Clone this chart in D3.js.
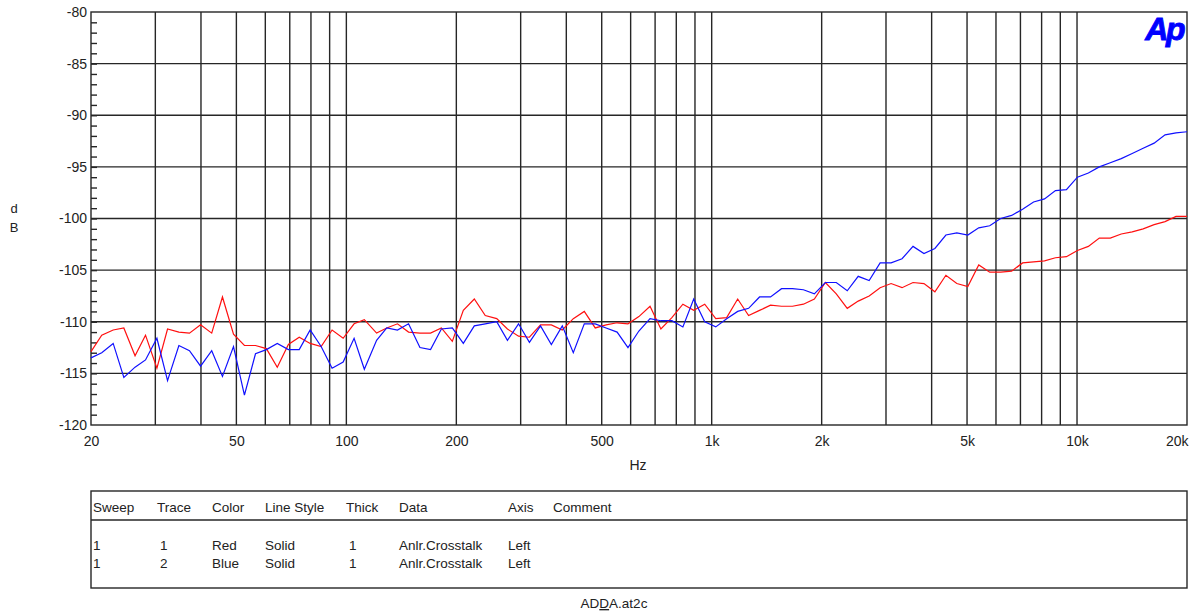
<!DOCTYPE html>
<html>
<head>
<meta charset="utf-8">
<script src="https://cdn.jsdelivr.net/npm/d3@7"></script>
<style>
  body { margin: 0; background: #fff; }
  svg text { font-family: "Liberation Sans", Arial, sans-serif; }
</style>
</head>
<body>
<div id="chart"></div>
<script>
// sweep frequencies (Hz), 101 points log-spaced from 20 Hz to 20 kHz
var freqs = [20, 21.4, 23.0, 24.6, 26.4, 28.2, 30.3, 32.4, 34.8, 37.2,
  39.9, 42.8, 45.8, 49.1, 52.6, 56.4, 60.4, 64.7, 69.4, 74.3,
  79.6, 85.3, 91.4, 98.0, 105, 112, 121, 129, 138, 148,
  159, 170, 182, 195, 209, 224, 240, 258, 276, 296,
  317, 340, 364, 390, 418, 448, 480, 514, 551, 590,
  632, 678, 726, 778, 834, 893, 957, 1026, 1099, 1178,
  1262, 1352, 1449, 1553, 1664, 1783, 1910, 2047, 2193, 2350,
  2518, 2698, 2891, 3098, 3319, 3557, 3811, 4083, 4376, 4688,
  5024, 5383, 5768, 6181, 6623, 7096, 7604, 8148, 8730, 9355,
  10024, 10741, 11509, 12332, 13214, 14159, 15172, 16257, 17419, 18665, 20000];

// trace 1 (red), dB
var redTrace = [-112.9, -111.3, -110.8, -110.6, -113.3, -111.3, -114.5, -110.7, -111.0, -111.1,
  -110.3, -111.1, -107.6, -111.2, -112.3, -112.3, -112.6, -114.4, -112.2, -111.5,
  -112.1, -112.4, -110.8, -111.6, -110.2, -109.8, -111.1, -110.6, -110.2, -111.0,
  -111.1, -111.1, -110.6, -111.9, -108.9, -107.8, -109.4, -109.7, -110.7, -111.4,
  -111.5, -110.3, -110.3, -110.8, -109.7, -109.0, -110.6, -110.3, -110.1, -110.2,
  -109.5, -108.5, -110.7, -109.6, -108.3, -108.9, -108.3, -109.7, -109.6, -107.8,
  -109.4, -108.9, -108.4, -108.5, -108.5, -108.3, -107.8, -106.2, -107.3, -108.7,
  -108.0, -107.5, -106.7, -106.3, -106.7, -106.2, -106.3, -107.1, -105.5, -106.3,
  -106.6, -104.5, -105.2, -105.2, -105.1, -104.3, -104.2, -104.1, -103.8, -103.7,
  -103.1, -102.7, -101.9, -101.9, -101.5, -101.3, -101.0, -100.6, -100.3, -99.8, -99.8];

// trace 2 (blue), dB
var blueTrace = [-113.5, -113.0, -112.1, -115.4, -114.4, -113.7, -111.6, -115.7, -112.3, -112.8,
  -114.3, -112.8, -115.3, -112.4, -117.1, -113.1, -112.7, -112.1, -112.7, -112.7,
  -110.8, -112.4, -114.5, -113.9, -111.6, -114.6, -111.8, -110.6, -110.8, -110.2,
  -112.5, -112.7, -110.7, -110.6, -112.1, -110.4, -110.2, -110.0, -111.8, -110.2,
  -112.0, -110.4, -112.2, -110.4, -113.0, -110.2, -110.2, -110.6, -111.0, -112.5,
  -110.9, -109.7, -109.9, -109.9, -110.5, -107.8, -110.0, -110.5, -109.7, -109.0,
  -108.7, -107.6, -107.6, -106.8, -106.8, -106.9, -107.3, -106.2, -106.2, -107.0,
  -105.6, -106.0, -104.3, -104.3, -103.9, -102.7, -103.4, -102.9, -101.6, -101.4,
  -101.6, -100.9, -100.7, -100.0, -99.7, -99.1, -98.4, -98.1, -97.3, -97.2,
  -96.0, -95.6, -95.0, -94.6, -94.2, -93.7, -93.2, -92.7, -91.9, -91.7, -91.6];

var xLabelTicks = [20, 50, 100, 200, 500, 1000, 2000, 5000, 10000, 20000];
var xGridTicks = [30, 40, 50, 60, 70, 80, 90, 100, 200, 300, 400, 500, 600, 700, 800, 900,
  1000, 2000, 3000, 4000, 5000, 6000, 7000, 8000, 9000, 10000];
var yTicks = [-80, -85, -90, -95, -100, -105, -110, -115, -120];
var yMinorTicks = d3.range(-119, -80, 1);

var tableHeader = ["Sweep", "Trace", "Color", "Line Style", "Thick", "Data", "Axis", "Comment"];
var tableRows = [
  ["1", "1", "Red", "Solid", "1", "Anlr.Crosstalk", "Left", ""],
  ["1", "2", "Blue", "Solid", "1", "Anlr.Crosstalk", "Left", ""]
];
var colX = [93, 157, 212, 265, 346, 399, 508, 553];

var W = 1191, H = 612;
var plot = {left: 91, right: 1187, top: 12, bottom: 425};

var svg = d3.select("#chart").append("svg")
    .attr("width", W)
    .attr("height", H);

var x = d3.scaleLog().domain([20, 20000]).range([plot.left, plot.right]);
var y = d3.scaleLinear().domain([-120, -80]).range([plot.bottom, plot.top]);

var gridColor = "#262626";

// grid
var grid = svg.append("g").attr("id", "grid");
grid.selectAll("line.v")
    .data(xGridTicks)
    .enter().append("line")
    .attr("class", "v")
    .attr("x1", function(d) { return x(d) }).attr("x2", function(d) { return x(d) })
    .attr("y1", plot.top).attr("y2", plot.bottom)
    .attr("stroke", gridColor).attr("stroke-width", 1.4)
grid.selectAll("line.h")
    .data(yTicks.slice(1, -1))
    .enter().append("line")
    .attr("class", "h")
    .attr("x1", plot.left).attr("x2", plot.right)
    .attr("y1", function(d) { return y(d) }).attr("y2", function(d) { return y(d) })
    .attr("stroke", gridColor).attr("stroke-width", 1.4)

// frame
svg.append("rect")
    .attr("x", plot.left).attr("y", plot.top)
    .attr("width", plot.right - plot.left).attr("height", plot.bottom - plot.top)
    .attr("fill", "none").attr("stroke", gridColor).attr("stroke-width", 1.4)

// minor ticks on the left axis, pointing inward
var minorAxis = d3.axisLeft(y).tickValues(yMinorTicks).tickSizeInner(-6).tickSizeOuter(0).tickFormat("");
svg.append("g")
    .attr("transform", "translate(" + plot.left + ",0)")
    .call(minorAxis)
    .call(function(g) { g.select(".domain").remove() })
    .selectAll("line").attr("stroke", gridColor).attr("stroke-width", 1.4)

// y labels (plain hyphen as in the original)
var yAxis = d3.axisLeft(y).tickValues(yTicks).tickSize(0).tickPadding(4)
    .tickFormat(function(d) { return String(d) });
svg.append("g")
    .attr("transform", "translate(" + plot.left + ",0)")
    .call(yAxis)
    .call(function(g) { g.select(".domain").remove() })
    .selectAll("text")
    .attr("font-size", 14).attr("fill", "#222")
    .style("font-family", "'Liberation Sans', Arial, sans-serif")

// x labels
function fmtHz(d) { return d >= 1000 ? (d / 1000) + "k" : d }
var xAxis = d3.axisBottom(x).tickValues(xLabelTicks).tickSize(0).tickPadding(11).tickFormat(fmtHz);
svg.append("g")
    .attr("transform", "translate(0," + plot.bottom + ")")
    .call(xAxis)
    .call(function(g) { g.select(".domain").remove() })
    .selectAll("text")
    .attr("font-size", 14).attr("fill", "#222")
    .style("font-family", "'Liberation Sans', Arial, sans-serif")
    .attr("text-anchor", function(d) { return d == 20000 ? "end" : "middle" })
    .attr("x", function(d) { return d == 20000 ? 1 : 0 })

// axis titles
svg.append("text").attr("x", 14).attr("y", 213).attr("text-anchor", "middle")
    .attr("font-size", 13).attr("fill", "#222").text("d")
svg.append("text").attr("x", 14).attr("y", 232).attr("text-anchor", "middle")
    .attr("font-size", 13).attr("fill", "#222").text("B")
svg.append("text").attr("x", 638).attr("y", 470).attr("text-anchor", "middle")
    .attr("font-size", 14).attr("fill", "#222").text("Hz")

// traces
var line = d3.line()
    .x(function(d, i) { return x(freqs[i]) })
    .y(function(d) { return y(d) });

svg.append("path").datum(redTrace)
    .attr("d", line).attr("fill", "none")
    .attr("stroke", "#ff1010").attr("stroke-width", 1.2)
svg.append("path").datum(blueTrace)
    .attr("d", line).attr("fill", "none")
    .attr("stroke", "#1010ff").attr("stroke-width", 1.2)

// Ap logo
svg.append("text").attr("x", 1183).attr("y", 40).attr("text-anchor", "end")
    .attr("font-size", 32).attr("font-weight", "bold").attr("font-style", "italic")
    .attr("letter-spacing", -2.5)
    .attr("fill", "#0000ff").attr("stroke", "#0000ff").attr("stroke-width", 0.9)
    .text("Ap")

// legend table
var table = svg.append("g").attr("id", "table");
table.append("rect")
    .attr("x", plot.left).attr("y", 491)
    .attr("width", plot.right - plot.left).attr("height", 97)
    .attr("fill", "none").attr("stroke", gridColor).attr("stroke-width", 1.4)
table.append("line")
    .attr("x1", plot.left).attr("x2", plot.right)
    .attr("y1", 520).attr("y2", 520)
    .attr("stroke", gridColor).attr("stroke-width", 1.4)

table.selectAll("text.head")
    .data(tableHeader)
    .enter().append("text")
    .attr("class", "head")
    .attr("x", function(d, i) { return colX[i] })
    .attr("y", 512)
    .attr("font-size", 13.5).attr("fill", "#222")
    .text(function(d) { return d })

tableRows.forEach(function(row, r) {
  table.selectAll("text.row" + r)
      .data(row)
      .enter().append("text")
      .attr("class", "row" + r)
      .attr("x", function(d, i) { return colX[i] + (i == 1 || i == 4 ? 3 : 0) })
      .attr("y", 550 + r * 18)
      .attr("font-size", 13.5).attr("fill", "#222")
      .text(function(d) { return d })
})

var fname = svg.append("text").attr("x", 614).attr("y", 608).attr("text-anchor", "middle")
    .attr("font-size", 13.5).attr("fill", "#222");
fname.append("tspan").text("AD");
fname.append("tspan").attr("text-decoration", "underline").text("D");
fname.append("tspan").text("A.at2c");
</script>
</body>
</html>
